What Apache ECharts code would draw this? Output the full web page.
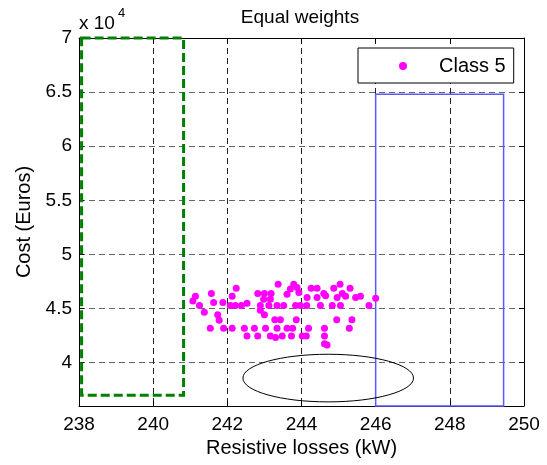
<!DOCTYPE html>
<html>
<head>
<meta charset="utf-8">
<script src="https://cdn.jsdelivr.net/npm/echarts@6/dist/echarts.min.js"></script>
<style>
  html, body { margin: 0; padding: 0; background: #fff; }
  #chart { width: 547px; height: 465px; }
</style>
</head>
<body>
<div id="chart"></div>
<script>
// Axis ticks
const xTicks = [238, 240, 242, 244, 246, 248, 250];
const yTicks = [40000, 45000, 50000, 55000, 60000, 65000, 70000];

// Class 5 solutions: resistive losses (kW) and cost (Euros)
const class5Losses = [
  243.37, 243.79, 245.04, 242.24, 244.26, 244.42, 244.87, 245.31, 243.70, 243.88,
  242.82, 243.00, 243.18, 241.57, 241.14, 242.13, 243.61, 243.93, 244.60, 244.65,
  245.10, 245.19, 245.59, 246.00, 241.07, 241.63, 241.88, 242.98, 243.16, 244.15,
  244.42, 244.96, 245.46,
  241.25, 242.08, 242.22, 242.38, 242.53, 242.89, 243.12, 243.34, 243.52, 243.84,
  243.97, 244.14, 244.51, 244.83, 245.05, 245.82,
  241.38, 242.89, 243.00, 241.74, 241.78, 243.28, 243.43, 243.86, 244.95, 245.36,
  241.54, 241.90, 242.13, 242.46, 242.73, 243.03, 243.34, 243.61, 243.76, 244.19,
  244.62, 245.29,
  242.53, 242.82, 243.16, 243.30, 243.48, 243.73, 244.02, 244.13, 244.62, 244.62,
  244.69
];
const class5Cost = [
  47260, 47260, 47260, 46890, 46890, 46890, 46890, 46890, 46800, 46940,
  46390, 46390, 46390, 46390, 46150, 46150, 46330, 46480, 46390, 46180,
  46390, 46150, 46150, 45960, 45710, 45560, 45560, 45870, 45870, 46020,
  46020, 46020, 46020,
  45280, 45280, 45280, 45280, 45500, 45280, 45280, 45280, 45280, 45280,
  45280, 45280, 45280, 45280, 45280, 45280,
  44670, 44850, 44420, 44420, 43930, 43980, 43980, 43980, 43980, 43980,
  43180, 43180, 43180, 43180, 43180, 43180, 43180, 43180, 43180, 43180,
  43180, 43180,
  42470, 42470, 42470, 42320, 42470, 42470, 42470, 42470, 42470, 41760,
  41640
];

// Highlighted regions (losses range, cost range)
const greenBoxLosses = [238.07, 240.82];
const greenBoxCost = [37000, 70000];
const blueBoxLosses = [246.0, 249.45];
const blueBoxCost = [36000, 64800];
// Ellipse: centre (losses, cost) and half-axes (losses, cost)
const ellipseCenter = [244.72, 38580];
const ellipseRadii = [2.3, 2200];

const FONT = '"Liberation Sans", Arial, Helvetica, sans-serif';
const chart = echarts.init(document.getElementById('chart'), null, { renderer: 'canvas' });

function boxSeries(name, xs, ys, color, width, dash) {
  return {
    type: 'custom',
    name: name,
    silent: true,
    clip: false,
    z: 3,
    data: [[xs[0], ys[0], xs[1], ys[1]]],
    renderItem: function (params, api) {
      const p0 = api.coord([api.value(0), api.value(1)]);
      const p1 = api.coord([api.value(2), api.value(3)]);
      return {
        type: 'rect',
        shape: {
          x: Math.min(p0[0], p1[0]),
          y: Math.min(p0[1], p1[1]),
          width: Math.abs(p1[0] - p0[0]),
          height: Math.abs(p1[1] - p0[1])
        },
        style: { fill: 'none', stroke: color, lineWidth: width, lineDash: dash }
      };
    }
  };
}

const axisCommon = {
  axisLine: { show: true, lineStyle: { color: '#000', width: 1 } },
  axisTick: { show: true, inside: true, length: 5, lineStyle: { color: '#000' } }
};

const option = {
  animation: false,
  backgroundColor: '#fff',
  grid: { left: 79, top: 38, right: 23, bottom: 59, containLabel: false },
  graphic: [
    {
      type: 'text', x: 300, y: 8, z: 10,
      style: { text: 'Equal weights', font: '19px ' + FONT, fill: '#000', align: 'center', verticalAlign: 'top' }
    },
    {
      type: 'text', x: 79, y: 14, z: 10,
      style: { text: 'x 10', font: '19px ' + FONT, fill: '#000', align: 'left', verticalAlign: 'top' }
    },
    {
      type: 'text', x: 118, y: 7, z: 10,
      style: { text: '4', font: '13px ' + FONT, fill: '#000', align: 'left', verticalAlign: 'top' }
    }
  ],
  legend: {
    data: ['Class 5'],
    left: 358,
    top: 48,
    orient: 'horizontal',
    icon: 'circle',
    itemWidth: 8,
    itemHeight: 8,
    padding: [8, 8, 7, 41],
    borderColor: '#000',
    borderWidth: 1,
    backgroundColor: '#fff',
    textStyle: { color: '#000', fontSize: 20, fontFamily: FONT, padding: [0, 0, 0, 27] }
  },
  xAxis: [
    Object.assign({
      type: 'value', min: 238, max: 250, interval: 2, position: 'bottom',
      axisLabel: { color: '#000', fontSize: 19, fontFamily: FONT, margin: 9 },
      splitLine: { show: true, lineStyle: { color: '#222', width: 1, type: [6, 4] } },
      name: 'Resistive losses (kW)', nameLocation: 'middle', nameGap: 30,
      nameTextStyle: { color: '#000', fontSize: 20, fontFamily: FONT }
    }, axisCommon),
    Object.assign({
      type: 'value', min: 238, max: 250, interval: 2, position: 'top',
      axisLabel: { show: false }, splitLine: { show: false }
    }, axisCommon)
  ],
  yAxis: [
    Object.assign({}, axisCommon, {
      type: 'value', min: 36000, max: 70000, position: 'left',
      axisTick: { show: true, inside: true, length: 5, lineStyle: { color: '#000' }, customValues: yTicks },
      axisLabel: {
        color: '#000', fontSize: 19, fontFamily: FONT, margin: 7, customValues: yTicks,
        formatter: function (v) { return String(Math.round(v / 1000) / 10); }
      },
      splitLine: { show: true, lineStyle: { color: '#666', width: 1, type: [6, 4] } },
      name: 'Cost (Euros)', nameLocation: 'middle', nameGap: 37, nameRotate: 90,
      nameTextStyle: { color: '#000', fontSize: 20, fontFamily: FONT }
    }),
    Object.assign({}, axisCommon, {
      type: 'value', min: 36000, max: 70000, position: 'right',
      axisTick: { show: true, inside: true, length: 5, lineStyle: { color: '#000' }, customValues: yTicks },
      axisLabel: { show: false }, splitLine: { show: false }
    })
  ],
  series: [
    {
      type: 'scatter',
      name: 'Class 5',
      xAxisIndex: 0, yAxisIndex: 0,
      symbol: 'circle',
      symbolSize: 7,
      itemStyle: { color: '#ff00ff', opacity: 1 },
      z: 4,
      data: class5Losses.map(function (x, i) { return [x, class5Cost[i]]; })
    },
    boxSeries('greenRegion', greenBoxLosses, greenBoxCost, '#008000', 3, [9, 4]),
    boxSeries('blueRegion', blueBoxLosses, blueBoxCost, '#5a5aff', 1.5, null),
    {
      type: 'custom',
      name: 'ellipse',
      silent: true,
      clip: true,
      z: 3,
      data: [[ellipseCenter[0], ellipseCenter[1], ellipseRadii[0], ellipseRadii[1]]],
      renderItem: function (params, api) {
        const c = api.coord([api.value(0), api.value(1)]);
        const e = api.coord([api.value(0) + api.value(2), api.value(1) + api.value(3)]);
        return {
          type: 'ellipse',
          shape: { cx: c[0], cy: c[1], rx: Math.abs(e[0] - c[0]), ry: Math.abs(e[1] - c[1]) },
          style: { fill: 'none', stroke: '#000', lineWidth: 1 }
        };
      }
    }
  ]
};

chart.setOption(option);
</script>
</body>
</html>
